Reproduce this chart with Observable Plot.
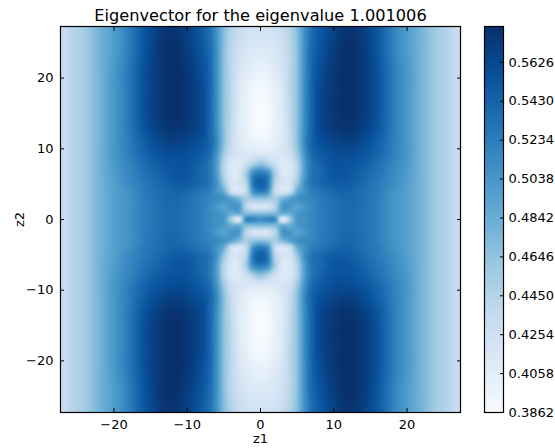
<!DOCTYPE html>
<html><head><meta charset="utf-8">
<script src="https://cdn.jsdelivr.net/npm/d3@7"></script>
<script src="https://cdn.jsdelivr.net/npm/@observablehq/plot@0.6"></script>
<style>
html,body{margin:0;padding:0;background:#fff}
#chart{position:relative;width:555px;height:448px;font-family:"DejaVu Sans",sans-serif}
#chart svg{position:absolute;top:0;background:transparent}
#chart text{fill:#000}
</style></head><body><div id="chart"></div>
<script>
const titleText = "Eigenvector for the eigenvalue 1.001006";
const z1Abs = [0,1,2,3,4,5,6,7,8,10,12,14,16,18,20,22,24,25.5,27.4];
const z2Abs = [0,0.8,1.8,3,4,5.2,6.5,8,9.5,11,13,15,18,21,24,27.4];
const row00 = [.507,.518,.511,.410,.454,.503,.507,.515,.522,.532,.538,.532,.522,.507,.495,.478,.456,.445,.425];
const row01 = [.474,.474,.474,.483,.483,.503,.509,.515,.522,.532,.538,.532,.522,.507,.495,.478,.456,.445,.425];
const row02 = [.421,.421,.445,.503,.503,.493,.503,.515,.522,.532,.538,.532,.522,.507,.495,.478,.456,.445,.425];
const row03 = [.468,.464,.454,.474,.493,.507,.513,.518,.524,.534,.540,.534,.522,.507,.495,.478,.456,.445,.425];
const row04 = [.526,.507,.435,.415,.429,.483,.507,.522,.528,.540,.542,.534,.524,.509,.495,.478,.456,.445,.425];
const row05 = [.546,.526,.445,.421,.421,.460,.507,.530,.538,.548,.548,.538,.526,.513,.497,.478,.456,.445,.425];
const row06 = [.526,.513,.454,.415,.415,.445,.499,.530,.538,.552,.552,.542,.530,.515,.499,.478,.456,.445,.425];
const row07 = [.460,.445,.425,.412,.417,.445,.499,.530,.542,.555,.555,.548,.534,.518,.501,.478,.456,.445,.425];
const row08 = [.410,.410,.412,.419,.429,.460,.507,.538,.548,.559,.561,.555,.542,.522,.503,.478,.456,.445,.425];
const row09 = [.396,.398,.404,.413,.433,.468,.515,.542,.555,.565,.569,.561,.546,.524,.503,.478,.456,.445,.425];
const row10 = [.388,.390,.402,.413,.437,.468,.511,.542,.561,.573,.577,.569,.552,.526,.503,.478,.456,.445,.425];
const row11 = [.386,.390,.400,.413,.439,.468,.511,.542,.561,.575,.581,.573,.555,.526,.503,.478,.456,.445,.425];
const row12 = [.390,.392,.402,.415,.441,.468,.511,.542,.561,.575,.581,.573,.555,.526,.503,.478,.456,.445,.425];
const row13 = [.400,.402,.410,.421,.441,.468,.509,.542,.557,.575,.581,.573,.555,.526,.503,.478,.456,.445,.425];
const row14 = [.412,.413,.417,.427,.441,.468,.509,.538,.552,.571,.581,.573,.552,.522,.499,.478,.456,.445,.425];
const row15 = [.425,.425,.429,.435,.449,.472,.507,.534,.548,.567,.577,.569,.550,.522,.499,.478,.456,.445,.425];
const rows = [row00,row01,row02,row03,row04,row05,row06,row07,row08,row09,row10,row11,row12,row13,row14,row15];

const colorStops = [0.3862,0.4105,0.4348,0.4591,0.4834,0.5078,0.5321,0.5564,0.5807];
const colorRange = ["#f7fbff","#deebf7","#c6dbef","#9ecae1","#6baed6","#4292c6","#2171b5","#08519c","#08306b"];
const barTicks = [0.3862,0.4058,0.4254,0.4450,0.4646,0.4842,0.5038,0.5234,0.5430,0.5626];
const axisTicks = [-20,-10,0,10,20];
const extent = 27.3;

// the grid was read in one quadrant; mirror it over both axes
const mirrorAxis = a => [...a.slice(1).reverse().map(d=>-d), ...a];
const mirrorList = a => [...a.slice(1).reverse(), ...a];
const Z1 = mirrorAxis(z1Abs), Z2 = mirrorAxis(z2Abs);
const grid = mirrorList(rows).map(mirrorList);

// smooth image resampling between the read-off grid nodes
function smooth(xs, ys, x) {
  const n = xs.length;
  const i = Math.max(0, Math.min(n-2, d3.bisectRight(xs, x)-1));
  const slope = k => k===0 ? (ys[1]-ys[0])/(xs[1]-xs[0])
    : k===n-1 ? (ys[n-1]-ys[n-2])/(xs[n-1]-xs[n-2])
    : (ys[k+1]-ys[k-1])/(xs[k+1]-xs[k-1]);
  const h = xs[i+1]-xs[i], t = (x-xs[i])/h, t2=t*t, t3=t2*t;
  return (2*t3-3*t2+1)*ys[i] + (t3-2*t2+t)*h*slope(i) + (-2*t3+3*t2)*ys[i+1] + (t3-t2)*h*slope(i+1);
}
const sample = (x,y) => smooth(Z2, grid.map(r=>smooth(Z1,r,x)), y);

const colorScale = {type:"linear", domain:colorStops, range:colorRange, clamp:true};

const main = Plot.plot({
  width:555, height:448, marginLeft:60, marginRight:95, marginTop:26, marginBottom:36,
  style:{fontFamily:"DejaVu Sans",fontSize:"13px",overflow:"visible"},
  x:{domain:[-extent,extent]}, y:{domain:[-extent,extent]}, color:colorScale,
  marks:[
    Plot.raster({x1:-extent,x2:extent,y1:-extent,y2:extent,fill:sample}),
    Plot.frame({stroke:"#000",strokeWidth:1.2,strokeOpacity:1}),
    Plot.axisX({anchor:"bottom",ticks:axisTicks,tickSize:0,tickPadding:7,label:"z1",labelAnchor:"center",labelArrow:"none",labelOffset:30,color:"#000"}),
    Plot.axisX({anchor:"bottom",ticks:axisTicks,tickSize:-4,text:null,label:null,stroke:"#000",strokeOpacity:1}),
    Plot.axisX({anchor:"top",ticks:axisTicks,tickSize:-4,text:null,label:null,stroke:"#000",strokeOpacity:1}),
    Plot.axisY({anchor:"left",ticks:axisTicks,tickSize:0,tickPadding:7,label:"z2",labelAnchor:"center",labelArrow:"none",labelOffset:46,color:"#000"}),
    Plot.axisY({anchor:"left",ticks:axisTicks,tickSize:-4,text:null,label:null,stroke:"#000",strokeOpacity:1}),
    Plot.axisY({anchor:"right",ticks:axisTicks,tickSize:-4,text:null,label:null,stroke:"#000",strokeOpacity:1}),
    Plot.text([titleText],{frameAnchor:"top",dy:-11,text:d=>d,fontSize:16.2,fill:"#000",lineAnchor:"middle"})
  ]
});
main.style.left="0px";

const bar = Plot.plot({
  width:555-484, height:448, marginLeft:0, marginRight:52, marginTop:26, marginBottom:36,
  style:{fontFamily:"DejaVu Sans",fontSize:"13px",overflow:"visible"},
  x:{domain:[0,1],axis:null}, y:{domain:[colorStops[0],colorStops[8]],axis:null}, color:colorScale,
  marks:[
    Plot.raster({x1:0,x2:1,y1:colorStops[0],y2:colorStops[8],width:1,height:386,fill:(x,y)=>y}),
    Plot.frame({stroke:"#000",strokeWidth:1.2,strokeOpacity:1}),
    Plot.axisY({anchor:"right",ticks:barTicks,tickSize:-4,text:null,label:null,stroke:"#000",strokeOpacity:1}),
    Plot.axisY({anchor:"right",ticks:barTicks,tickSize:0,tickPadding:5,label:null,tickFormat:d3.format(".4f"),color:"#000"})
  ]
});
bar.style.left="484px";
document.getElementById("chart").append(main,bar);
</script></body></html>
